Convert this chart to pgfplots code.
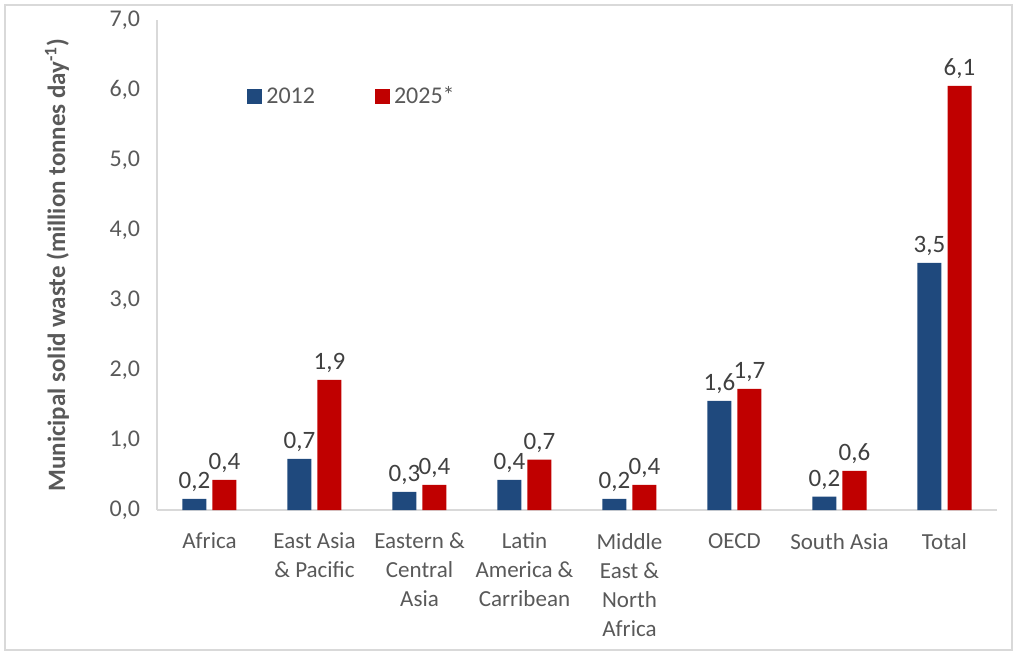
\documentclass[border=0pt]{standalone}
\usepackage{pgfplots}
\pgfplotsset{compat=1.18}
\usepackage{fontspec}
\setmainfont{Carlito}
\definecolor{blueb}{HTML}{1F497D}
\definecolor{redb}{HTML}{C00000}
\definecolor{axisgray}{HTML}{D9D9D9}
\definecolor{labgray}{HTML}{595959}
\definecolor{txtgray}{HTML}{404040}
\pgfplotsset{/pgf/number format/assume math mode=true}
\begin{document}
\begin{tikzpicture}
\path[use as bounding box] (-78.5pt,-72.5pt) rectangle (430pt,255pt);
\draw[axisgray, line width=0.75pt] (-76pt,-70pt) rectangle (427.5pt,252.5pt);
\begin{axis}[
  scale only axis, width=420pt, height=245pt,
  ymin=0, ymax=7, ytick={0,1,...,7},
  xmin=-0.5, xmax=7.5, xtick={0,1,...,7},
  xticklabels={Africa,{East Asia\\\& Pacific},{Eastern \&\\Central\\Asia},{Latin\\America \&\\Carribean},{Middle\\East \&\\North\\Africa},OECD,South Asia,Total},
  ybar=3pt, bar width=12pt,
  axis x line*=bottom, axis y line*=left,
  axis line style={draw=axisgray, line width=0.9pt},
  major tick length=0pt,
  /pgf/number format/.cd, use comma, fixed, fixed zerofill, precision=1,
  /pgfplots/.cd,
  yticklabel style={font=\fontsize{12}{14.5}\selectfont, color=labgray, xshift=-5pt},
  xticklabel style={font=\fontsize{11.5}{14.5}\selectfont, color=labgray, align=center, yshift=-8pt},
  ylabel={Municipal solid waste (million tonnes day\textsuperscript{-1})},
  ylabel style={at={(axis description cs:-0.119,0.5)}, anchor=center, font=\fontsize{12.5}{15}\selectfont\bfseries, color=labgray},
  legend style={at={(axis description cs:0.1,0.843)}, anchor=west, draw=none, fill=none,
    font=\fontsize{12}{14.5}\selectfont, text=labgray,
    /tikz/every even column/.append style={column sep=28pt}},
  legend columns=2,
  legend image code/.code={\draw[#1,draw=none] (0pt,-3.75pt) rectangle (7.5pt,3.75pt);},
  nodes near coords,
  every node near coord/.append style={font=\fontsize{12.5}{15}\selectfont, color=txtgray},
]
\addplot[fill=blueb, draw=none] coordinates {(0,0.16) (1,0.73) (2,0.26) (3,0.43) (4,0.16) (5,1.56) (6,0.19) (7,3.53)};
\addplot[fill=redb, draw=none] coordinates {(0,0.43) (1,1.86) (2,0.36) (3,0.72) (4,0.36) (5,1.73) (6,0.56) (7,6.06)};
\legend{2012,2025*}
\end{axis}
\end{tikzpicture}
\end{document}
